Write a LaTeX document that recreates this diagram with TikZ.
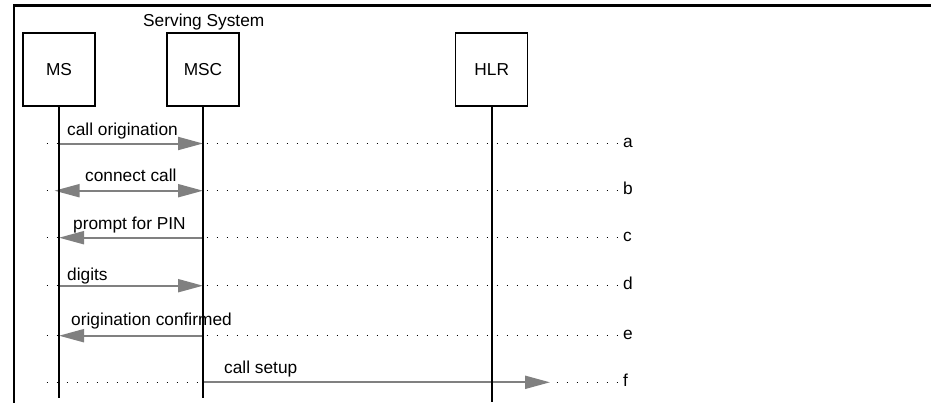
\documentclass[tikz,border=0pt]{standalone}
\usepackage{fontspec}
\setmainfont{Liberation Sans}
\usetikzlibrary{arrows.meta}
\definecolor{msggray}{RGB}{128,128,128}
\begin{document}
\begin{tikzpicture}[x=1pt,y=-1pt,
  every node/.style={font=\fontsize{17.3}{20}\selectfont, inner sep=0pt},
  entity/.style={draw, line width=1.3pt, minimum width=72pt, minimum height=73pt},
  lifeline/.style={line width=1.7pt},
  frameline/.style={line width=2.7pt, line join=miter},
  msg/.style={draw=msggray, line width=2pt, -{Triangle[length=25pt,width=13pt]}},
  dmsg/.style={draw=msggray, line width=2pt, {Triangle[length=25pt,width=13pt]}-{Triangle[length=25pt,width=13pt]}},
  guide/.style={line width=1.5pt, dash pattern=on 1.5pt off 8.5pt, black},
  msglabel/.style={anchor=base west},
  rowlabel/.style={anchor=base west}]
\useasboundingbox (0,0) rectangle (931,402);

% frame
\coordinate (frame-bl) at (14,403);
\coordinate (frame-tl) at (14,5.3);
\coordinate (frame-tr) at (932,5.3);
\draw[frameline] (frame-bl) -- (frame-tl) -- (frame-tr);

\node[anchor=base west] (serving) at (143,26) {Serving System};

% entities
\node[entity] (MS)  at (59,69.5)  {MS};
\node[entity] (MSC) at (203,69.5) {MSC};
\node[entity] (HLR) at (491.7,69.5) {HLR};

\coordinate (ms-end)  at (59,398);
\coordinate (msc-end) at (203,398);
\coordinate (hlr-end) at (491.7,402);

% rows: guides and row letters
\foreach \r/\y in {a/143.5,b/190.7,c/237.7,d/285.7,e/335.7,f/382.3} {
  \coordinate (ms-\r) at (59,\y);
  \coordinate (msc-\r) at (203,\y);
  \coordinate (gs-\r) at (46.7,\y);
  \coordinate (ge-\r) at (618,\y);
  \draw[guide] (gs-\r) -- (ge-\r);
  \node[rowlabel] (lbl-\r) at (623,\y+4) {\r};
}
\coordinate (msb-tip) at (54.5,190.7);
\coordinate (f-end) at (550,382.3);

% messages
\draw[msg]  (ms-a) -- (msc-a);
\draw[dmsg] (msb-tip) -- (msc-b);
\draw[msg]  (msc-c) -- (ms-c);
\draw[msg]  (ms-d) -- (msc-d);
\draw[msg]  (msc-e) -- (ms-e);
\draw[msg]  (msc-f) -- (f-end);

\node[msglabel] (t-a) at (67,135)   {call origination};
\node[msglabel] (t-b) at (85,181.7) {connect call};
\node[msglabel] (t-c) at (73,229.3) {prompt for PIN};
\node[msglabel] (t-d) at (67,280.7) {digits};
\node[msglabel] (t-e) at (71,325)   {origination confirmed};
\node[msglabel] (t-f) at (224,373.3) {call setup};

% lifelines
\draw[lifeline] (MS.south) -- (ms-end);
\draw[lifeline] (MSC.south) -- (msc-end);
\draw[lifeline] (HLR.south) -- (hlr-end);
\end{tikzpicture}
\end{document}
